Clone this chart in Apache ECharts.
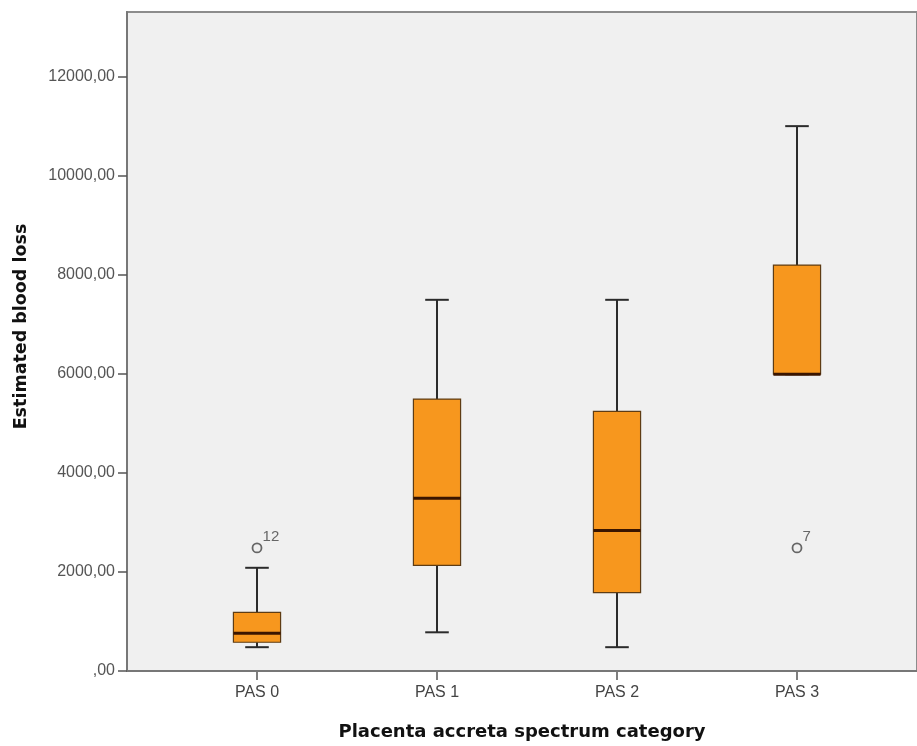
<!DOCTYPE html>
<html>
<head>
<meta charset="utf-8">
<script src="https://cdn.jsdelivr.net/npm/echarts@6/dist/echarts.min.js"></script>
<style>
html,body{margin:0;padding:0;background:#fff;}
#chart{width:917px;height:746px;}
</style>
</head>
<body>
<div id="chart"></div>
<script>
// ---- data ----
var categories = ['PAS 0', 'PAS 1', 'PAS 2', 'PAS 3'];
var whiskerLow  = [500, 800, 500, 6000];
var quartile1   = [600, 2150, 1600, 6000];
var medians     = [780, 3500, 2850, 6000];
var quartile3   = [1200, 5500, 5250, 8200];
var whiskerHigh = [2100, 7500, 7500, 11000];
var outlierCategory = [0, 3];
var outlierValue    = [2500, 2500];
var outlierCase     = ['12', '7'];
var yTicks = [0, 2000, 4000, 6000, 8000, 10000, 12000];

var boxData = categories.map(function (c, i) {
  return [i, whiskerLow[i], quartile1[i], medians[i], quartile3[i], whiskerHigh[i]];
});
var outlierData = outlierCategory.map(function (c, i) {
  return { value: [c, outlierValue[i]], caseId: outlierCase[i] };
});

var chart = echarts.init(document.getElementById('chart'));
var yMax = 13300;

chart.setOption({
  backgroundColor: '#ffffff',
  animation: false,
  grid: [
    { left: 127, top: 12, right: 0, bottom: 74, show: true,
      backgroundColor: '#f0f0f0', borderColor: '#8c8c8c', borderWidth: 2 },
    { left: 167, top: 12, width: 720, bottom: 74 }
  ],
  xAxis: [
    { type: 'value', gridIndex: 0, min: 0, max: 1,
      axisLine: { show: true, onZero: false, lineStyle: { color: '#777', width: 2 } },
      axisTick: { show: false }, axisLabel: { show: false }, splitLine: { show: false },
      name: 'Placenta accreta spectrum category', nameLocation: 'middle', nameGap: 52,
      nameTextStyle: { fontFamily: 'DejaVu Sans', fontWeight: 'bold', fontSize: 18, color: '#111' } },
    { type: 'category', gridIndex: 1, data: categories, boundaryGap: true,
      axisLine: { show: false },
      axisTick: { show: true, alignWithLabel: true, length: 8, lineStyle: { color: '#555', width: 1.5 } },
      axisLabel: { margin: 13, fontFamily: 'Liberation Sans', fontSize: 16, color: '#444' },
      splitLine: { show: false } }
  ],
  yAxis: [
    { type: 'value', gridIndex: 0, min: 0, max: yMax, interval: 2000,
      axisLine: { show: true, lineStyle: { color: '#777', width: 2 } },
      axisTick: { show: true, length: 9, lineStyle: { color: '#555', width: 1.5 } },
      axisLabel: { margin: 12, fontFamily: 'Liberation Sans', fontSize: 16, color: '#555',
        showMaxLabel: false,
        formatter: function (v) { return v === 0 ? ',00' : (yTicks.indexOf(v) >= 0 ? v + ',00' : ''); } },
      splitLine: { show: false },
      name: 'Estimated blood loss', nameLocation: 'middle', nameGap: 97, nameRotate: 90,
      nameTextStyle: { fontFamily: 'DejaVu Sans', fontWeight: 'bold', fontSize: 17.5, color: '#111',
        padding: [0, 0, 0, 30] } },
    { type: 'value', gridIndex: 1, min: 0, max: yMax, show: false }
  ],
  series: [
    {
      type: 'custom', xAxisIndex: 1, yAxisIndex: 1,
      data: boxData,
      encode: { x: 0, y: [1, 2, 3, 4, 5] },
      renderItem: function (params, api) {
        var x = api.value(0);
        var pMin = api.coord([x, api.value(1)]);
        var pQ1 = api.coord([x, api.value(2)]);
        var pMed = api.coord([x, api.value(3)]);
        var pQ3 = api.coord([x, api.value(4)]);
        var pMax = api.coord([x, api.value(5)]);
        var band = api.size([1, 0])[0];
        var bw = band * 0.262;
        var cw = bw * 0.5;
        var cx = pMed[0];
        var wStyle = { stroke: '#2b2b2b', lineWidth: 2 };
        return {
          type: 'group',
          children: [
            { type: 'line', shape: { x1: cx, y1: pMin[1], x2: cx, y2: pQ1[1] }, style: wStyle },
            { type: 'line', shape: { x1: cx, y1: pQ3[1], x2: cx, y2: pMax[1] }, style: wStyle },
            { type: 'line', shape: { x1: cx - cw / 2, y1: pMin[1], x2: cx + cw / 2, y2: pMin[1] }, style: wStyle },
            { type: 'line', shape: { x1: cx - cw / 2, y1: pMax[1], x2: cx + cw / 2, y2: pMax[1] }, style: wStyle },
            { type: 'rect', shape: { x: cx - bw / 2, y: pQ3[1], width: bw, height: pQ1[1] - pQ3[1] },
              style: { fill: '#f7971e', stroke: '#5e3c14', lineWidth: 1.2 } },
            { type: 'line', shape: { x1: cx - bw / 2, y1: pMed[1], x2: cx + bw / 2, y2: pMed[1] },
              style: { stroke: '#3a1500', lineWidth: 3 } }
          ]
        };
      }
    },
    {
      type: 'scatter', xAxisIndex: 1, yAxisIndex: 1,
      data: outlierData,
      symbol: 'circle', symbolSize: 9,
      itemStyle: { color: '#f0f0f0', borderColor: '#444', borderWidth: 1.8 },
      label: { show: true, position: [11, -13], formatter: function (p) { return p.data.caseId; },
        fontFamily: 'Liberation Sans', fontSize: 15, color: '#444' }
    }
  ]
});
</script>
</body>
</html>
